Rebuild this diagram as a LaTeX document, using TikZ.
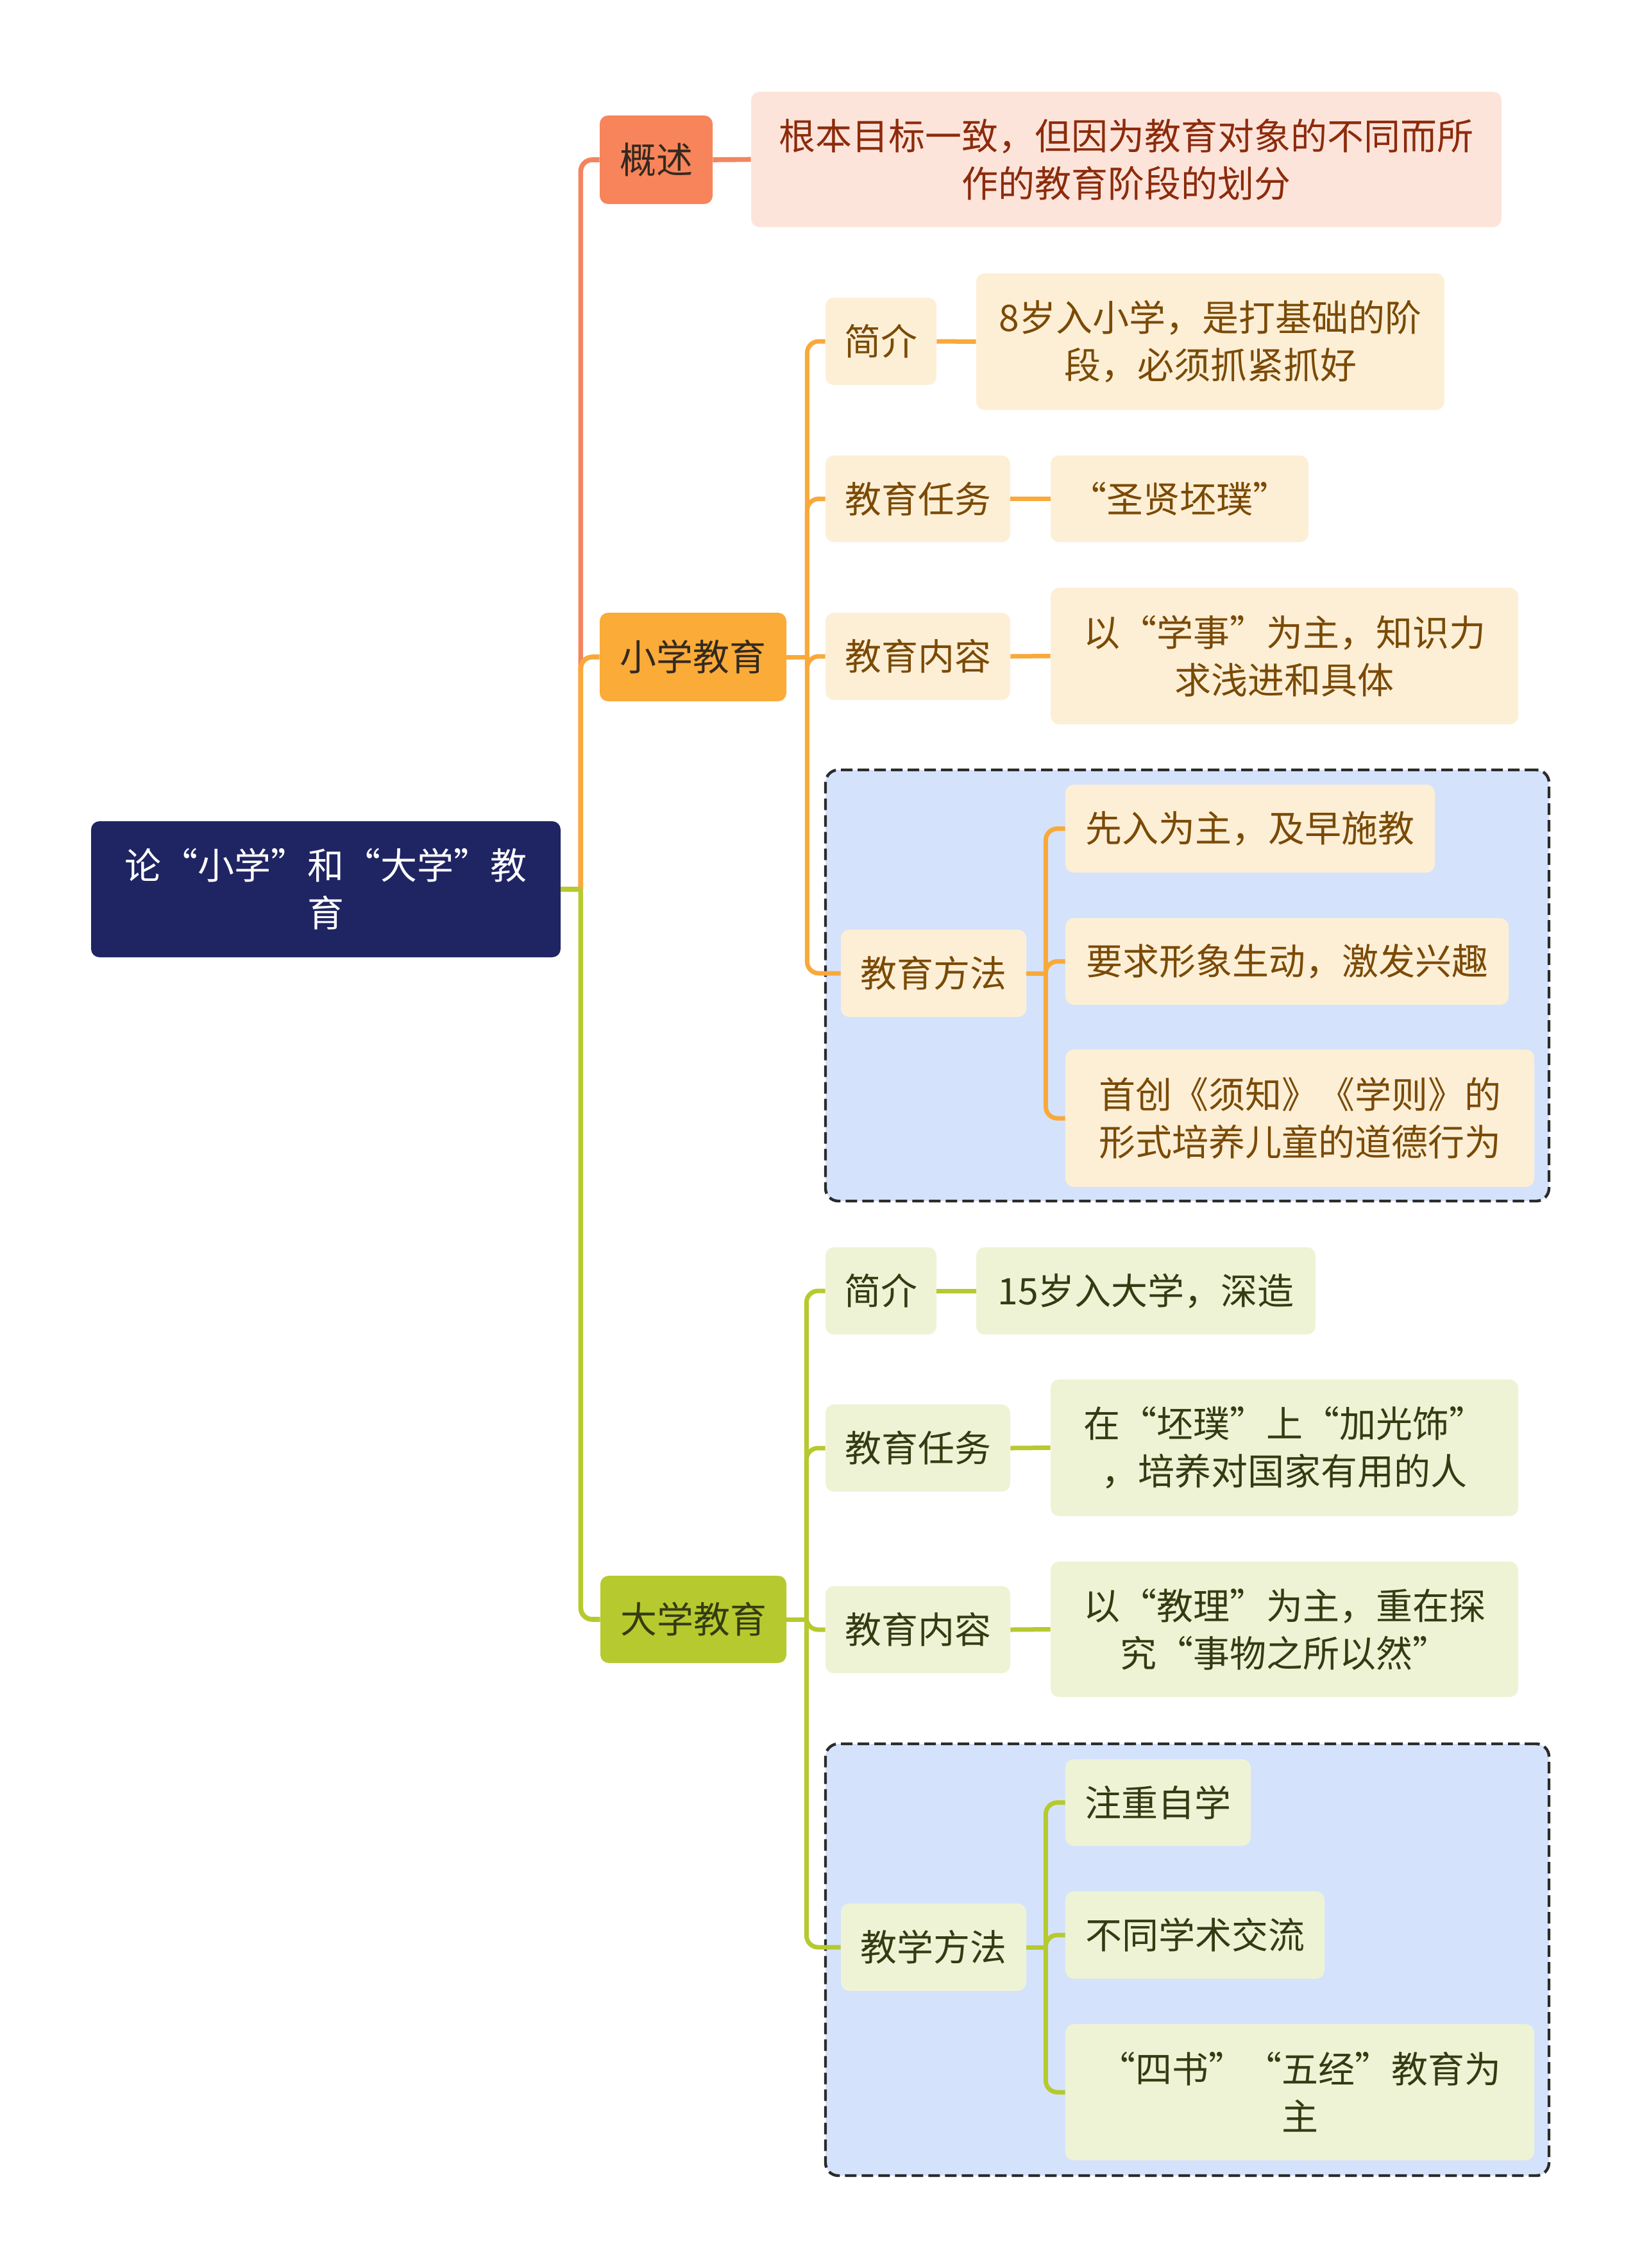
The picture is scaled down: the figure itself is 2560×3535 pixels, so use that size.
\documentclass[tikz,border=0pt]{standalone}
\usepackage{fontspec}
\setmainfont{Noto Sans CJK SC}
\usetikzlibrary{calc}
\definecolor{rootfill}{HTML}{1F2462}
\definecolor{gsfill}{HTML}{F7845A}
\definecolor{gsline}{HTML}{F4845F}
\definecolor{gsleaf}{HTML}{FDE4DB}
\definecolor{gstext}{HTML}{8C2B0B}
\definecolor{xxfill}{HTML}{FBAB38}
\definecolor{xxline}{HTML}{F9A93A}
\definecolor{xxleaf}{HTML}{FDEFD6}
\definecolor{xxtext}{HTML}{7A4A06}
\definecolor{dxfill}{HTML}{B6C92F}
\definecolor{dxline}{HTML}{B6C92F}
\definecolor{dxleaf}{HTML}{EFF3D6}
\definecolor{dxtext}{HTML}{343B12}
\definecolor{darktext}{HTML}{33291F}
\definecolor{grpfill}{HTML}{D4E3FB}
\definecolor{grpline}{HTML}{2B2B2B}
\begin{document}
\begin{tikzpicture}[x=0.5pt,y=-0.5pt,
  base/.style={rounded corners=6.5pt, inner sep=0pt, align=center,
    font=\fontsize{28.5pt}{37pt}\selectfont},
  rootbox/.style={base, fill=rootfill, text=white},
  gsbox/.style={base, fill=gsfill, text=darktext},
  gsleafbox/.style={base, fill=gsleaf, text=gstext},
  xxbox/.style={base, fill=xxfill, text=darktext},
  xxleafbox/.style={base, fill=xxleaf, text=xxtext},
  dxbox/.style={base, fill=dxfill, text=dxtext},
  dxleafbox/.style={base, fill=dxleaf, text=dxtext},
  groupbox/.style={draw=grpline, fill=grpfill, line width=2.2pt, dash pattern=on 9pt off 4pt, rounded corners=10pt, inner sep=0pt},
  gsconn/.style={draw=gsline, line width=3.8pt},
  xxconn/.style={draw=xxline, line width=3.5pt},
  dxconn/.style={draw=dxline, line width=3.5pt},
  rc/.style={rounded corners=9pt}
]
\useasboundingbox (0,0) rectangle (2560,3535);

% group boxes
\node[groupbox, minimum width=564pt, minimum height=336pt] (grp1) at (1851,1536) {};
\node[groupbox, minimum width=564pt, minimum height=336.5pt] (grp2) at (1851,3054.5) {};

% nodes
\node[rootbox, minimum width=366pt, minimum height=106pt] (root) at (508,1386) {论“小学”和“大学”教\\育};
\node[gsbox, minimum width=88pt, minimum height=69pt] (gs) at (1023,249) {概述};
\node[gsleafbox, minimum width=585pt, minimum height=105.5pt] (gsc) at (1756,248.5) {根本目标一致，但因为教育对象的不同而所\\作的教育阶段的划分};

\node[xxbox, minimum width=145.5pt, minimum height=69pt] (xx) at (1080.5,1024) {小学教育};
\node[xxleafbox, minimum width=86.5pt, minimum height=68pt] (xj) at (1373.5,532) {简介};
\node[xxleafbox, minimum width=365pt, minimum height=106.5pt] (xjc) at (1887,532.5) {8岁入小学，是打基础的阶\\段，必须抓紧抓好};
\node[xxleafbox, minimum width=144pt, minimum height=67.5pt] (xr) at (1431,777.5) {教育任务};
\node[xxleafbox, minimum width=201pt, minimum height=67.5pt] (xrc) at (1839,777.5) {“圣贤坯璞”};
\node[xxleafbox, minimum width=144pt, minimum height=68pt] (xn) at (1431,1023) {教育内容};
\node[xxleafbox, minimum width=364.5pt, minimum height=106.5pt] (xnc) at (2002.5,1022.5) {以“学事”为主，知识力\\求浅进和具体};
\node[xxleafbox, minimum width=144.5pt, minimum height=68pt] (xf) at (1455.5,1517) {教育方法};
\node[xxleafbox, minimum width=288pt, minimum height=68.5pt] (f1) at (1949,1291.5) {先入为主，及早施教};
\node[xxleafbox, minimum width=345.5pt, minimum height=67.5pt] (f2) at (2006.5,1498.5) {要求形象生动，激发兴趣};
\node[xxleafbox, minimum width=365.5pt, minimum height=107pt] (f3) at (2026.5,1743) {首创《须知》《学则》的\\形式培养儿童的道德行为};

\node[dxbox, minimum width=145pt, minimum height=68pt] (dx) at (1081,2524) {大学教育};
\node[dxleafbox, minimum width=86.5pt, minimum height=68pt] (dj) at (1373.5,2012) {简介};
\node[dxleafbox, minimum width=264.5pt, minimum height=68pt] (djc) at (1786.5,2012) {15岁入大学，深造};
\node[dxleafbox, minimum width=144pt, minimum height=68pt] (dr) at (1431,2257) {教育任务};
\node[dxleafbox, minimum width=364.5pt, minimum height=106.5pt] (drc) at (2002.5,2256.5) {在“坯璞”上“加光饰”\\，培养对国家有用的人};
\node[dxleafbox, minimum width=144pt, minimum height=68pt] (dn) at (1431,2540) {教育内容};
\node[dxleafbox, minimum width=364.5pt, minimum height=105.5pt] (dnc) at (2002.5,2539.5) {以“教理”为主，重在探\\究“事物之所以然”};
\node[dxleafbox, minimum width=144.5pt, minimum height=68pt] (df) at (1455.5,3035) {教学方法};
\node[dxleafbox, minimum width=144.5pt, minimum height=67.5pt] (g1) at (1805.5,2809.5) {注重自学};
\node[dxleafbox, minimum width=202pt, minimum height=68pt] (g2) at (1863,3016) {不同学术交流};
\node[dxleafbox, minimum width=365.5pt, minimum height=106pt] (g3) at (2026.5,3261) {“四书”“五经”教育为\\主};

% junction coordinates
\coordinate (trunk) at ($(root.east)+(31,0)$);
\coordinate (xjun) at ($(xx.east)+(32,0)$);
\coordinate (djun) at ($(dx.east)+(31,0)$);
\coordinate (fjun) at ($(xf.east)+(30,0)$);
\coordinate (gjun) at ($(df.east)+(30,0)$);

% level 1 connectors
\draw[gsconn] (root.east) -- (trunk);
\draw[gsconn, rc] (trunk) |- (gs.west);
\draw[xxconn, line width=3.8pt, rc] (trunk) |- (xx.west);
\draw[dxconn, line width=3.8pt, rc] (trunk) |- (dx.west);
\draw[dxconn, line width=3.8pt] (root.east) -- (trunk);
\draw[gsconn] (gs.east) -- (gsc.west);

% 小学教育
\draw[xxconn] (xx.east) -- (xjun);
\draw[xxconn, rc] (xjun) |- (xj.west);
\draw[xxconn, rc] (xjun) |- (xr.west);
\draw[xxconn, rc] (xjun) |- (xn.west);
\draw[xxconn, rc] (xjun) |- (xf.west);
\draw[xxconn] (xj.east) -- (xjc.west);
\draw[xxconn] (xr.east) -- (xrc.west);
\draw[xxconn] (xn.east) -- (xnc.west);
\draw[xxconn] (xf.east) -- (fjun);
\draw[xxconn, rc] (fjun) |- (f1.west);
\draw[xxconn, rc] (fjun) |- (f2.west);
\draw[xxconn, rc] (fjun) |- (f3.west);

% 大学教育
\draw[dxconn] (dx.east) -- (djun);
\draw[dxconn, rc] (djun) |- (dj.west);
\draw[dxconn, rc] (djun) |- (dr.west);
\draw[dxconn, rc] (djun) |- (dn.west);
\draw[dxconn, rc] (djun) |- (df.west);
\draw[dxconn] (dj.east) -- (djc.west);
\draw[dxconn] (dr.east) -- (drc.west);
\draw[dxconn] (dn.east) -- (dnc.west);
\draw[dxconn] (df.east) -- (gjun);
\draw[dxconn, rc] (gjun) |- (g1.west);
\draw[dxconn, rc] (gjun) |- (g2.west);
\draw[dxconn, rc] (gjun) |- (g3.west);
\end{tikzpicture}
\end{document}
